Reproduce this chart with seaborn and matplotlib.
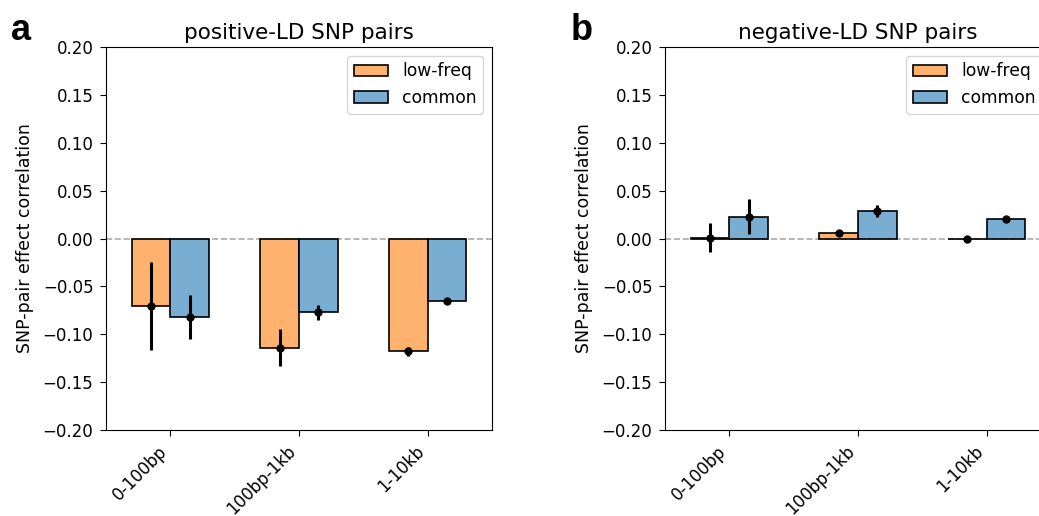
import numpy as np
import pandas as pd
import matplotlib
matplotlib.use("Agg")
import matplotlib.pyplot as plt
import seaborn as sns

categories = ["0-100bp", "100bp-1kb", "1-10kb"]
groups = ["low-freq", "common"]

pos_low = [-0.070, -0.114, -0.118]
pos_low_err = [0.046, 0.019, 0.005]
pos_common = [-0.082, -0.077, -0.065]
pos_common_err = [0.023, 0.008, 0.002]

neg_low = [0.001, 0.006, -0.0005]
neg_low_err = [0.015, 0.002, 0.001]
neg_common = [0.023, 0.029, 0.020]
neg_common_err = [0.018, 0.006, 0.002]

titles = ["positive-LD SNP pairs", "negative-LD SNP pairs"]
letters = ["a", "b"]
yticks = [-0.20, -0.15, -0.10, -0.05, 0.00, 0.05, 0.10, 0.15, 0.20]

colors = {"low-freq": "#FFB26E", "common": "#79ADD2"}

plt.rcParams["font.family"] = ["DejaVu Sans"]

fig = plt.figure(figsize=(10.39, 5.16), dpi=100)
axw, axh = 0.3715, 0.742
ax_a = fig.add_axes([0.102, 0.1667, axw, axh])
ax_b = fig.add_axes([0.640, 0.1667, axw, axh])

panels = [
    (ax_a, pos_low, pos_low_err, pos_common, pos_common_err),
    (ax_b, neg_low, neg_low_err, neg_common, neg_common_err),
]
letter_x = [-0.247, -0.2435]

for i, (ax, lo, loe, co, coe) in enumerate(panels):
    df = pd.DataFrame({
        "category": categories * 2,
        "group": ["low-freq"] * 3 + ["common"] * 3,
        "value": lo + co,
    })
    sns.barplot(data=df, x="category", y="value", hue="group",
                hue_order=groups, order=categories, palette=colors,
                width=0.6, errorbar=None, edgecolor="black", linewidth=1.2,
                saturation=1, ax=ax)
    xs = np.arange(len(categories))
    ax.errorbar(xs - 0.15, lo, yerr=loe, fmt="o", color="black",
                elinewidth=2.2, markersize=5, capsize=0, zorder=5)
    ax.errorbar(xs + 0.15, co, yerr=coe, fmt="o", color="black",
                elinewidth=2.2, markersize=5, capsize=0, zorder=5)
    ax.axhline(0, color="#aaaaaa", linestyle="--", linewidth=1.2, zorder=0)
    ax.set_ylim(-0.2, 0.2)
    ax.set_xlim(-0.5, 2.5)
    ax.set_yticks(yticks)
    ax.set_yticklabels([f"{t:.2f}".replace("-", "\u2212") for t in yticks], fontsize=12)
    ax.set_xticks(xs)
    ax.set_xticklabels(categories, rotation=45, ha="right", fontsize=12)
    ax.tick_params(axis="both", length=4.5, pad=4.5)
    ax.set_xlabel("")
    ax.set_ylabel("SNP-pair effect correlation", fontsize=12.5, labelpad=6)
    ax.set_title(titles[i], fontsize=15.5, pad=6)
    ax.legend(loc="upper right", fontsize=12.3, title=None)
    ax.text(letter_x[i], 1.018, letters[i], transform=ax.transAxes,
            fontsize=26, fontweight="bold", family="Liberation Sans",
            va="baseline", ha="left")
    for s in ax.spines.values():
        s.set_visible(True)
        s.set_color("black")

fig.savefig("out.png", dpi=100)
